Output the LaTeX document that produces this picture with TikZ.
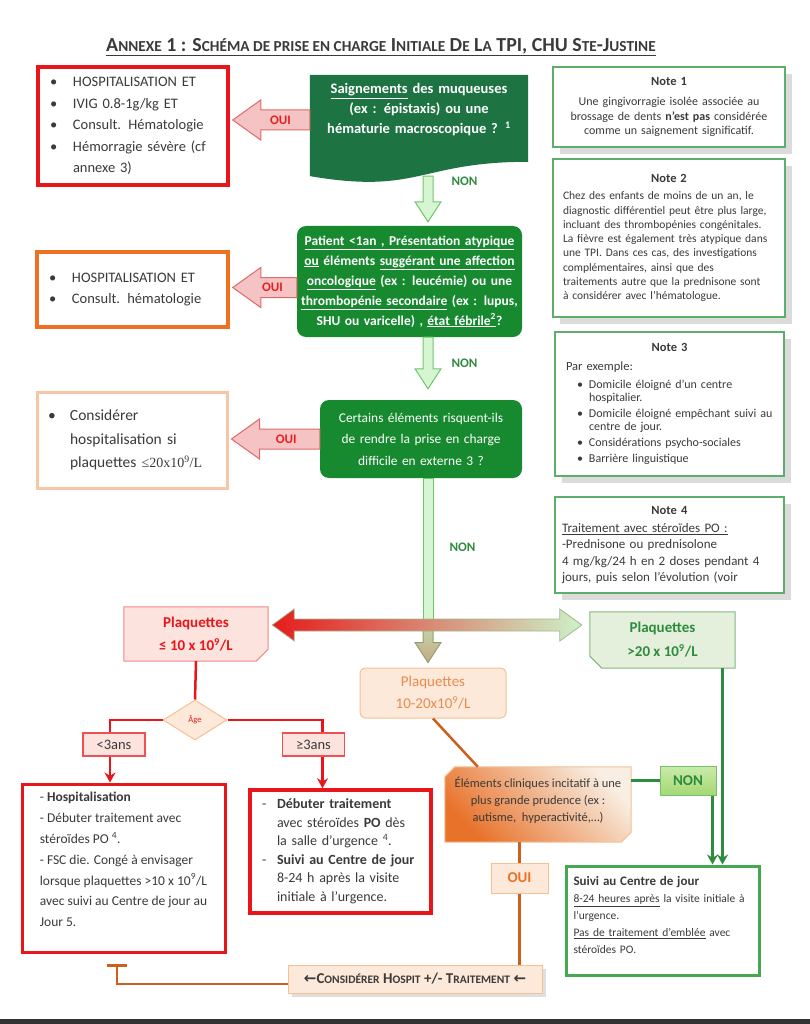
\documentclass[tikz,border=0pt]{standalone}
\usepackage{fontspec}
\setmainfont{Carlito}
\newfontfamily\serifnum{Liberation Serif}
\newfontfamily\arrowfont{DejaVu Sans}
\usetikzlibrary{positioning,calc,shadows,shapes.geometric,arrows.meta,backgrounds}

\definecolor{qdark}{HTML}{1E7343}
\definecolor{qgreen}{HTML}{178A30}
\definecolor{hred}{HTML}{E8161B}
\definecolor{horange}{HTML}{F07022}
\definecolor{hpeach}{HTML}{F8C6A6}
\definecolor{notegreen}{HTML}{5DAE6B}
\definecolor{txtgray}{HTML}{3A3A3A}
\definecolor{ouifill}{HTML}{F5C3C3}
\definecolor{ouidraw}{HTML}{DE6A6A}
\definecolor{ouitext}{HTML}{E3201F}
\definecolor{nonfill}{HTML}{D6F6D1}
\definecolor{nondraw}{HTML}{70C470}
\definecolor{nontext}{HTML}{2E8B3E}
\definecolor{pinkfill}{HTML}{FCE3DE}
\definecolor{pinkdraw}{HTML}{EE8A84}
\definecolor{peachfill}{HTML}{FDE9DA}
\definecolor{peachdraw}{HTML}{F4C095}
\definecolor{peachtext}{HTML}{E88A4E}
\definecolor{lgfill}{HTML}{E4F0DB}
\definecolor{lgdraw}{HTML}{80B880}
\definecolor{suivigreen}{HTML}{43A84F}
\definecolor{linegreen}{HTML}{2F8C3F}
\definecolor{nonboxtop}{HTML}{C9EBA8}
\definecolor{nonboxbot}{HTML}{A6D874}
\definecolor{eleorange}{HTML}{E8722A}
\definecolor{elecream}{HTML}{F8EEE2}
\definecolor{tantop}{HTML}{BFD8A8}
\definecolor{tanbot}{HTML}{C9A986}
\definecolor{tandraw}{HTML}{8FA070}
\definecolor{barleft}{HTML}{E51C1C}
\definecolor{barmid}{HTML}{D9B99B}
\definecolor{barright}{HTML}{CDF2C8}
\definecolor{bardraw}{HTML}{A0B890}

\newcommand\itembul{\makebox[23pt][l]{\textbullet}}
\newcommand\itemind{\hspace*{23pt}}
\newcommand\tcap[1]{{\fontsize{15.3}{20}\selectfont #1}}
\newcommand\bcap[1]{{\fontsize{11.5}{14}\selectfont #1}}
\newcommand\dashbul{\makebox[15pt][l]{-}}

% block arrow pointing left: tip, tail, style
\newcommand\blockleft[3]{%
  \draw[#3] (#1) -- ($(#1)+(28,-20)$) -- ($(#1)+(28,-10)$) -- ($(#2)+(0,-10)$)
    -- ($(#2)+(0,10)$) -- ($(#1)+(28,10)$) -- ($(#1)+(28,20)$) -- cycle;}
% block arrow pointing down: tip, tail, style
\newcommand\blockdown[3]{%
  \draw[#3] (#1) -- ($(#1)+(-13,-20)$) -- ($(#1)+(-5,-20)$) -- ($(#2)+(-5,0)$)
    -- ($(#2)+(5,0)$) -- ($(#1)+(5,-20)$) -- ($(#1)+(13,-20)$) -- cycle;}

\tikzset{
  resbox/.style={draw=#1, fill=white, line width=3.5pt, text=txtgray, align=left,
    inner xsep=12pt, inner ysep=0pt},
  qbox/.style={fill=qgreen, text=white, align=center, rounded corners=9pt, inner sep=4pt},
  note/.style={draw=notegreen, line width=1.3pt, fill=white, text=txtgray,
    drop shadow={shadow xshift=7pt, shadow yshift=-7pt, fill=black!28},
    inner xsep=9pt, inner ysep=0pt},
  ouilabel/.style={text=ouitext, font=\fontsize{13}{13}\selectfont\bfseries},
  nonlabel/.style={text=nontext, font=\fontsize{13}{13}\selectfont\bfseries},
  ouiblock/.style={fill=ouifill, draw=ouidraw, line width=1pt},
  nonblock/.style={fill=nonfill, draw=nondraw, line width=1pt},
  agebox/.style={draw=hred!75, fill=pinkfill, line width=1.2pt, minimum width=62pt,
    minimum height=23pt, inner sep=0pt, text=txtgray, font=\fontsize{14.5}{15}\selectfont},
  redline/.style={draw=hred, line width=2.5pt},
  greenline/.style={draw=linegreen, line width=3pt},
  orangeline/.style={draw=horange!85!black, line width=2.5pt},
  tip/.style={-{Stealth[length=10pt,width=11pt]}}
}

\begin{document}
\begin{tikzpicture}[x=1pt,y=-1pt]
\useasboundingbox (0,0) rectangle (810,1024);

% title
\node[text=txtgray, font=\fontsize{19.9}{20}\selectfont\bfseries] (title) at (381,47)
  {\underline{A\tcap{NNEXE} 1 : S\tcap{CHÉMA DE PRISE EN CHARGE} I\tcap{NITIALE} D\tcap{E} L\tcap{A} TPI, CHU S\tcap{TE}-J\tcap{USTINE}}};

% results on the left
\node[resbox=hred, minimum width=190pt, minimum height=118pt, text width=166pt,
  font=\fontsize{14.5}{21.5}\selectfont] (hosp1) at (133,126)
  {\itembul HOSPITALISATION ET\\ \itembul IVIG 0.8-1g/kg ET\\ \itembul Consult. Hématologie\\
   \itembul Hémorragie sévère (cf\\ \itemind annexe 3)};
\node[resbox=horange, minimum width=191pt, minimum height=75pt, text width=167pt,
  font=\fontsize{14.5}{21.5}\selectfont] (hosp2) at (132.5,289.5)
  {\itembul HOSPITALISATION ET\\ \itembul Consult. hématologie};
\node[resbox=hpeach, line width=3pt, inner xsep=11pt, minimum width=190pt, minimum height=96pt,
  text width=168pt, font=\fontsize{15.5}{23.5}\selectfont] (consid) at (132,440)
  {\makebox[22pt][l]{\textbullet}Considérer\\ \hspace*{22pt}hospitalisation si\\
   \hspace*{22pt}plaquettes {\serifnum\fontsize{14}{23.5}\selectfont ≤20x10\textsuperscript{9}/L}};

% questions
\node[text=white, align=center, text width=214pt, minimum width=218pt, minimum height=70pt,
  inner sep=0pt, font=\fontsize{14.5}{20}\selectfont\bfseries] (q1) at (419,110)
  {\underline{Saignements} des muqueuses\\(ex : épistaxis) ou une\\hématurie macroscopique ? \textsuperscript{1}};
\node[qbox, minimum width=225pt, minimum height=111pt, text width=219pt, inner xsep=3pt,
  font=\fontsize{13.5}{20}\selectfont\bfseries] (q2) at (409.5,281.5)
  {\underline{Patient <1an , Présentation atypique}\\
   \underline{ou} éléments \underline{suggérant une affection}\\
   \underline{oncologique} (ex : leucémie) ou une\\
   \underline{thrombopénie secondaire} (ex : lupus,\\
   SHU ou varicelle) , \underline{état fébrile\textsuperscript{2}}?};
\node[qbox, minimum width=202pt, minimum height=78pt, text width=194pt,
  font=\fontsize{13.4}{21.5}\selectfont] (q3) at (421,439)
  {Certains éléments risquent-ils\\de rendre la prise en charge\\difficile en externe 3 ?};

% notes
\node[note, minimum width=232pt, minimum height=80pt, text width=220pt, inner xsep=6pt, align=center,
  font=\fontsize{12}{14.5}\selectfont] (note1) at (669,107)
  {{\fontsize{12.5}{14}\selectfont\bfseries Note 1}\\[6pt]
   Une gingivorragie isolée associée au\\brossage de dents \textbf{n’est pas} considérée\\
   comme un saignement significatif.};
\node[note, minimum width=232pt, minimum height=158pt, text width=212pt, inner xsep=10pt, align=left,
  font=\fontsize{11.5}{14.3}\selectfont] (note2) at (669,238)
  {\makebox[\hsize]{\fontsize{12.5}{14}\selectfont\bfseries Note 2}\\[3pt]
   Chez des enfants de moins de un an, le\\
   diagnostic différentiel peut être plus large,\\
   incluant des thrombopénies congénitales.\\
   La fièvre est également très atypique dans\\
   une TPI. Dans ces cas, des investigations\\
   complémentaires, ainsi que des\\
   traitements autre que la prednisone sont\\
   à considérer avec l’hématologue.};
\node[note, minimum width=229pt, minimum height=144pt, text width=211pt, inner xsep=9pt, align=left,
  font=\fontsize{12}{13}\selectfont] (note3) at (669.5,404)
  {\makebox[\hsize]{\fontsize{12.5}{14}\selectfont\bfseries Note 3}\\[6pt]
   \hspace*{2pt}{\fontsize{12.5}{13}\selectfont Par exemple:}\\[5pt]
   \hspace*{13pt}\makebox[12pt][l]{\textbullet}Domicile éloigné d’un centre\\
   \hspace*{25pt}hospitalier.\\[3pt]
   \hspace*{13pt}\makebox[12pt][l]{\textbullet}Domicile éloigné empêchant suivi au\\
   \hspace*{25pt}centre de jour.\\[3pt]
   \hspace*{13pt}\makebox[12pt][l]{\textbullet}Considérations psycho-sociales\\[3pt]
   \hspace*{13pt}\makebox[12pt][l]{\textbullet}Barrière linguistique};
\node[note, minimum width=229pt, minimum height=96pt, text width=215pt, inner xsep=7pt, align=left,
  font=\fontsize{13}{16.3}\selectfont] (note4) at (669.5,545)
  {\makebox[\hsize]{\fontsize{12.5}{14}\selectfont\bfseries Note 4}\\[2pt]
   \underline{Traitement avec stéroïdes PO :}\\
   -Prednisone ou prednisolone\\
   4 mg/kg/24 h en 2 doses pendant 4\\
   jours, puis selon l’évolution (voir};

% platelet levels
\node[text=hred, align=center, minimum width=144pt, minimum height=54pt,
  font=\fontsize{15}{23}\selectfont\bfseries] (p10) at (196,634) {Plaquettes\\≤ 10 x 10\textsuperscript{9}/L};
\node[text=nontext, align=center, minimum width=145pt, minimum height=56pt,
  font=\fontsize{15}{24}\selectfont\bfseries] (p20) at (662.5,640) {Plaquettes\\>20 x 10\textsuperscript{9}/L};
\node[draw=peachdraw, fill=peachfill, rounded corners=5pt, line width=1pt, text=peachtext,
  align=center, minimum width=146pt, minimum height=50pt,
  font=\fontsize{15}{22}\selectfont] (p1020) at (433,693) {Plaquettes\\10-20x10\textsuperscript{9}/L};

% age split
\node[diamond, draw=peachdraw, fill=peachfill, line width=1pt, minimum width=64pt,
  minimum height=40pt, inner sep=0pt, text=hred, font=\fontsize{8.5}{8.5}\selectfont] (age) at (195,720) {Âge};
\node[agebox] (lt3) at (114,744.5) {<3ans};
\node[agebox] (ge3) at (313.5,744.5) {≥3ans};

\node[resbox=hred, line width=3pt, inner xsep=4pt, minimum width=203pt, minimum height=168pt,
  font=\fontsize{13.5}{20.8}\selectfont] (hosp3) at (123.5,868)
  {- \textbf{Hospitalisation}\\
   - Débuter traitement avec\\
   stéroïdes PO \textsuperscript{4}.\\
   - FSC die. Congé à envisager\\
   lorsque plaquettes >10 x 10\textsuperscript{9}/L\\
   avec suivi au Centre de jour au\\
   Jour 5.\\[-4pt]\mbox{}};
\node[resbox=hred, inner xsep=12pt, minimum width=181pt, minimum height=123pt, text width=157pt,
  font=\fontsize{14}{18.5}\selectfont] (deb) at (340.5,851.5)
  {\dashbul\textbf{Débuter traitement}\\
   \hspace*{15pt}avec stéroïdes \textbf{PO} dès\\
   \hspace*{15pt}la salle d’urgence \textsuperscript{4}.\\
   \dashbul\textbf{Suivi au Centre de jour}\\
   \hspace*{15pt}8-24 h après la visite\\
   \hspace*{15pt}initiale à l’urgence.};

% clinical elements
\node[text=txtgray, align=center, minimum width=186pt, minimum height=75pt,
  font=\fontsize{12.5}{17}\selectfont] (ele) at (538,804.5)
  {Éléments cliniques incitatif à une\\plus grande prudence (ex :\\autisme,~ hyperactivité,…)\\[-6pt]\mbox{}};
\node[draw=nondraw, top color=nonboxtop, bottom color=nonboxbot, line width=1pt,
  minimum width=56pt, minimum height=29pt, inner sep=0pt, text=nontext,
  font=\fontsize{15}{15}\selectfont\bfseries] (non4) at (688,780.5) {NON};
\node[draw=suivigreen, line width=3pt, fill=white, text=txtgray, align=left, text width=178pt,
  inner xsep=7.5pt, inner ysep=0pt, minimum width=193pt, minimum height=109pt,
  font=\fontsize{11.5}{17}\selectfont] (suivi) at (662.5,920.5)
  {{\fontsize{13}{17}\selectfont\bfseries Suivi au Centre de jour}\\
   \underline{8-24 heures après} la visite initiale à\\
   l’urgence.\\
   \underline{Pas de traitement d’emblée} avec\\
   stéroïdes PO.\\[-6pt]\mbox{}};
\node[draw=peachdraw, fill=peachfill, line width=1pt, text=horange, minimum width=57pt,
  minimum height=30pt, inner sep=0pt, font=\fontsize{15}{15}\selectfont\bfseries] (oui5) at (519.5,878) {OUI};
\node[draw=peachdraw, fill=peachfill, line width=1pt, text=txtgray, minimum width=254pt,
  minimum height=28pt, inner sep=0pt,
  drop shadow={shadow xshift=4pt, shadow yshift=-4pt, fill=black!25},
  font=\fontsize{15}{15}\selectfont\bfseries] (cons) at (415,979)
  {{\arrowfont ←}C\bcap{ONSIDÉRER} H\bcap{OSPIT} +/- T\bcap{RAITEMENT} {\arrowfont ←}};

% shapes behind the text
\begin{scope}[on background layer]
  \fill[qdark] (q1.north west) -- (q1.north east) -- ($(q1.south east)+(0,16.6)$)
    .. controls ($(q1.south)+(0,16.6)$) and ($(q1.south)+(0,49.6)$) .. ($(q1.south west)+(0,30.9)$) -- cycle;
  \filldraw[fill=pinkfill, draw=pinkdraw, line width=1pt] (p10.north west) -- (p10.north east)
    -- ($(p10.south east)+(0,-12)$) -- ($(p10.south east)+(-12,0)$) -- (p10.south west) -- cycle;
  \filldraw[fill=lgfill, draw=lgdraw, line width=1pt] (p20.north west) -- (p20.north east)
    -- (p20.south east) -- ($(p20.south west)+(12,0)$) -- ($(p20.south west)+(0,-12)$) -- cycle;
  \path[draw=peachdraw, line width=1pt, top color=eleorange, bottom color=elecream, shading angle=135]
    ($(ele.north west)+(10,0)$) -- (ele.north east) -- ($(ele.south east)+(0,-10)$)
    -- ($(ele.south east)+(-10,0)$) -- (ele.south west) -- ($(ele.north west)+(0,10)$) -- cycle;
\end{scope}

% OUI arrows
\coordinate (o1) at ($(q1.west)+(0,10)$);
\coordinate (o1tip) at ($(hosp1.east |- o1)+(3,0)$);
\blockleft{o1tip}{o1}{ouiblock}
\node[ouilabel] (oui1) at ($(o1tip)!0.62!(o1)$) {OUI};
\coordinate (o2) at ($(q2.west)+(0,6)$);
\coordinate (o2tip) at ($(hosp2.east |- o2)+(3,0)$);
\blockleft{o2tip}{o2}{ouiblock}
\node[ouilabel] (oui2) at ($(o2tip)!0.62!(o2)$) {OUI};
\coordinate (o3) at (q3.west);
\coordinate (o3tip) at ($(consid.east |- o3)+(3,0)$);
\blockleft{o3tip}{o3}{ouiblock}
\node[ouilabel] (oui3) at ($(o3tip)!0.62!(o3)$) {OUI};

% NON arrows down the spine
\coordinate (spine) at (428,0);
\coordinate (n1tail) at ($(spine |- q1.south)+(0,31)$);
\coordinate (n1tip) at ($(spine |- q2.north)+(0,-4)$);
\blockdown{n1tip}{n1tail}{nonblock}
\node[nonlabel, anchor=west] (non1) at ($(spine |- q1.south)+(20,36)$) {NON};
\coordinate (n2tail) at (spine |- q2.south);
\coordinate (n2tip) at ($(spine |- q3.north)+(0,-11)$);
\blockdown{n2tip}{n2tail}{nonblock}
\node[nonlabel, anchor=west] (non2) at ($(n2tail)+(20,26)$) {NON};
\coordinate (hbar) at (428,625);
\draw[nonblock] ($(spine |- q3.south)+(-5,0)$) rectangle ($(hbar)+(5,0)$);
\node[nonlabel, anchor=west] (non3) at (446,547) {NON};

% split towards the three levels
\coordinate (tantip) at ($(spine |- p1020.north)+(0,-5)$);
\blockdown{tantip}{hbar}{top color=tantop, bottom color=tanbot, draw=tandraw, line width=1pt}
\coordinate (hl) at ($(p10.east |- hbar)+(4,0)$);
\coordinate (hr) at ($(p20.west |- hbar)+(-8,0)$);
\path[draw=bardraw, line width=0.8pt, left color=barleft, middle color=barmid, right color=barright]
  (hl) -- ($(hl)+(22,-16)$) -- ($(hl)+(22,-6)$) -- ($(hr)+(-22,-6)$) -- ($(hr)+(-22,-16)$) -- (hr)
  -- ($(hr)+(-22,16)$) -- ($(hr)+(-22,6)$) -- ($(hl)+(22,6)$) -- ($(hl)+(22,16)$) -- cycle;

% red branch
\draw[redline] (p10.south) -- (age.north);
\coordinate (lt3b) at ($(lt3.north)+(-4,0)$);
\coordinate (ge3b) at ($(ge3.north)+(9,0)$);
\draw[redline] (age.west) -| (lt3b);
\draw[redline] (age.east) -| (ge3b);
\draw[redline, tip] (lt3b |- lt3.south) -- (lt3b |- hosp3.north);
\draw[redline, tip] (ge3b |- ge3.south) -- (ge3b |- deb.north);

% orange and green branch
\draw[orangeline] (p1020.south) -- ($(ele.north west)+(33,0)$);
\draw[greenline] (non4.west) -- (non4.west -| ele.east);
\coordinate (nonb) at ($(non4.south east)+(-4,0)$);
\draw[greenline, tip] (nonb) -- (nonb |- suivi.north);
\coordinate (p20b) at ($(p20.south)+(60,0)$);
\draw[greenline, tip] (p20b) -- (p20b |- suivi.north);
\draw[orangeline] (oui5 |- ele.south) -- (oui5.north);
\draw[orangeline] (oui5.south) -- (oui5 |- cons.north);
\coordinate (consw) at ($(cons.west)+(0,5)$);
\coordinate (bartop) at ($(hosp3.south)+(-6.5,10)$);
\draw[orangeline, -{Bar[width=20pt,line width=3.5pt]}] (consw) -| (bartop);

% page edge
\fill[black!80] (0,1019) rectangle (810,1024);
\end{tikzpicture}
\end{document}
